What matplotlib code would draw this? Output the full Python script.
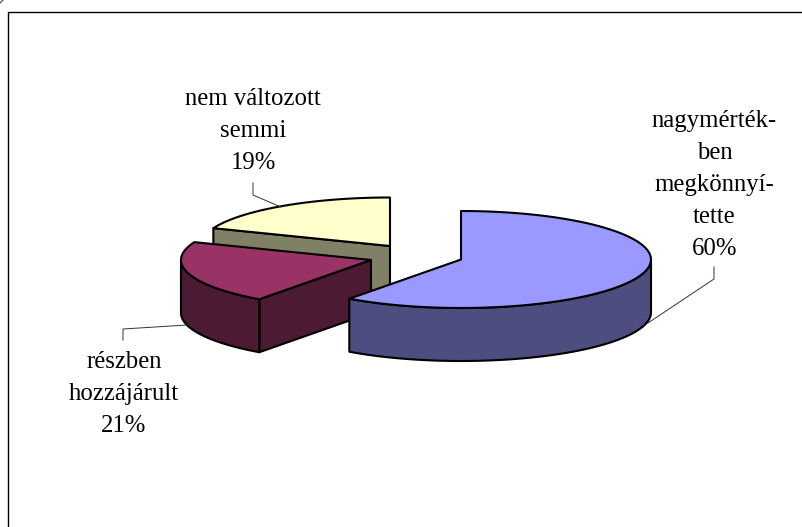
import numpy as np
import matplotlib
matplotlib.use("Agg")
import matplotlib.pyplot as plt
from matplotlib.patches import Polygon

# chart values (percent), clockwise from 12 o'clock
labels = ["nagymérték-\nben\nmegkönnyí-\ntette\n60%", "részben\nhozzájárult\n21%", "nem változott\nsemmi\n19%"]
values = [60, 21, 19]

top_colors = ["#9999FF", "#993366", "#FFFFCC"]
side_colors = ["#4D4D80", "#4D1A33", "#808066"]

# exploded slice centres in pixels
centers = [(461, 259.5), (371, 260), (390, 246)]
label_pos = [(714.5, 185), (124, 394), (253, 131)]
leaders = [
    [(714, 267), (714, 279), (648, 323)],
    [(123, 340), (123, 329), (187, 325)],
    [(253, 183), (253, 195), (281, 207)],
]

rx = 190
ry = 48.5
depth = 53

plt.rcParams["font.family"] = ["Liberation Serif", "DejaVu Serif"]

fig = plt.figure(figsize=(8.03, 5.27), dpi=100)
ax = fig.add_axes([0, 0, 1, 1])
ax.set_xlim(0, 803)
ax.set_ylim(527, 0)
ax.axis("off")


# angle in degrees clockwise from the top of the pie
def rim(c, a1, a2, dy=0):
    t = np.radians(np.linspace(a1, a2, 80))
    return np.column_stack([c[0] + rx * np.sin(t), c[1] - ry * np.cos(t) + dy])


def draw(pts, color):
    ax.add_patch(Polygon(pts, closed=True, facecolor=color, edgecolor="black", lw=1.5, joinstyle="round"))


# frame, open on the right and at the bottom
ax.plot([8, 8, 803], [527, 12, 12], color="black", lw=1.0)
ax.plot([0, 3], [3, 0], color="#555555", lw=0.9)

# leader lines go under the pie
for line in leaders:
    xs = [p[0] for p in line]
    ys = [p[1] for p in line]
    ax.plot(xs, ys, color="#333333", lw=0.7)

angles = np.cumsum([0] + values) * 3.6

# back to front: yellow, red, blue
for i in [2, 1, 0]:
    c = centers[i]
    a1 = angles[i]
    a2 = angles[i + 1]

    # cut face that looks to the viewer
    if i in (1, 2):
        p = rim(c, a1, a1)[0]
        draw([c, p, (p[0], p[1] + depth), (c[0], c[1] + depth)], side_colors[i])

    # visible part of the outer wall (90 to 270 degrees)
    lo = max(a1, 90)
    hi = min(a2, 270)
    if lo < hi:
        draw(np.vstack([rim(c, lo, hi), rim(c, hi, lo, depth)]), side_colors[i])

    # top face
    draw(np.vstack([[c], rim(c, a1, a2)]), top_colors[i])

for lab, pos in zip(labels, label_pos):
    ax.text(pos[0], pos[1], lab, ha="center", va="center", fontsize=17.8, linespacing=1.58, color="black")

fig.savefig("out.png", dpi=100)
